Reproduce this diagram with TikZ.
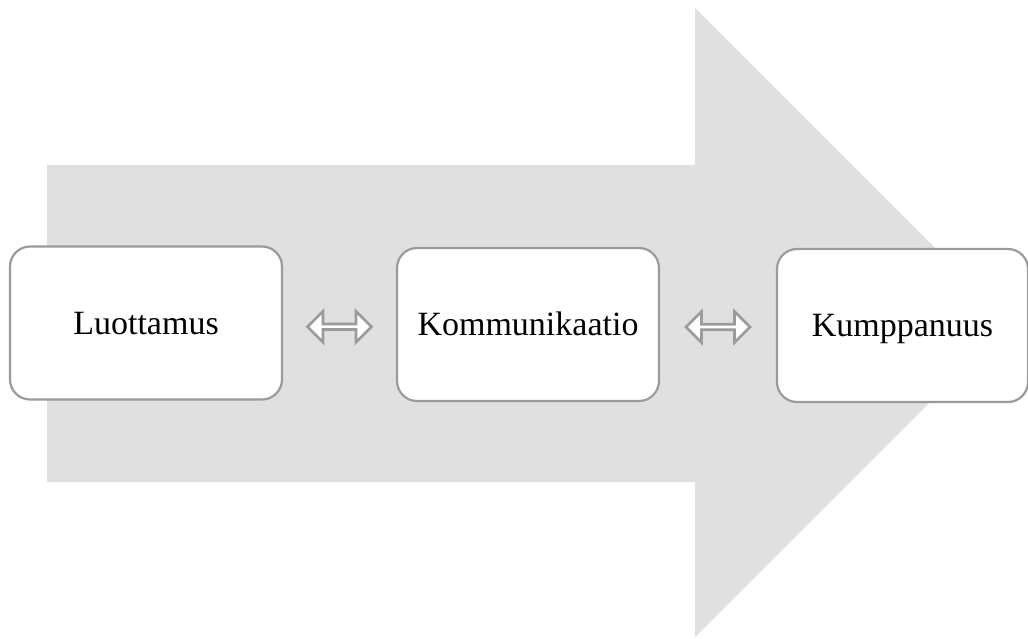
\documentclass[tikz,border=0pt]{standalone}
\usepackage{fontspec}
\setmainfont{Liberation Serif}
\usetikzlibrary{shapes.arrows,positioning}

\definecolor{arrowgray}{RGB}{224,224,224}
\definecolor{edgegray}{RGB}{155,155,155}

\begin{document}
\begin{tikzpicture}[x=1pt,y=-1pt,node distance=382pt,on grid,
	box/.style={draw=edgegray,line width=2.2pt,fill=white,rounded corners=20pt,
		minimum height=153pt,text height=22pt,text depth=0pt,
		font=\fontsize{34}{40}\selectfont},
	dblarrow/.style={double arrow,draw=edgegray,line width=2.6pt,fill=white,
		minimum width=31pt,minimum height=64pt,double arrow head extend=6pt,inner sep=0pt}]
	\useasboundingbox (0,0) rectangle (1028,639);
	% big background arrow
	\fill[arrowgray] (47,165) -- (695,165) -- (695,8) -- (1009.5,322.5)
		-- (695,637) -- (695,482) -- (47,482) -- cycle;
	\node[box,minimum width=272pt] (luot) at (146,323) {Luottamus};
	\node[box,minimum width=262pt,right=of luot,yshift=-1.5pt] (komm) {Kommunikaatio};
	\node[box,minimum width=251pt,right=374.5pt of komm,yshift=-1pt] (kump) {Kumppanuus};
	\path (luot.east) -- (komm.west) node[dblarrow,midway,yshift=-3pt] (a1) {};
	\path (komm.east) -- (kump.west) node[dblarrow,midway,yshift=-2pt] (a2) {};
\end{tikzpicture}
\end{document}
